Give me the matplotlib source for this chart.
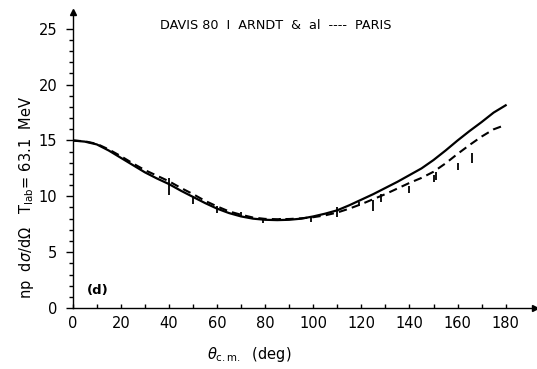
import matplotlib
matplotlib.use("Agg")
import matplotlib.pyplot as plt
import numpy as np

theta = [0, 5, 10, 15, 20, 25, 30, 35, 40, 45, 50, 55, 60, 65, 70, 75, 80, 85, 90,
         95, 100, 105, 110, 115, 120, 125, 130, 135, 140, 145, 150, 155, 160, 165,
         170, 175, 180]
arndt = [15.0, 14.9, 14.65, 14.1, 13.45, 12.8, 12.15, 11.6, 11.1, 10.5, 9.95, 9.4,
         8.9, 8.5, 8.2, 8.0, 7.9, 7.87, 7.9, 8.0, 8.2, 8.45, 8.75, 9.2, 9.7, 10.2,
         10.75, 11.3, 11.9, 12.5, 13.25, 14.1, 15.0, 15.85, 16.65, 17.5, 18.15]
paris = [15.0, 14.93, 14.7, 14.2, 13.6, 12.95, 12.35, 11.85, 11.35, 10.75, 10.2, 9.6,
         9.1, 8.65, 8.35, 8.1, 7.98, 7.95, 7.97, 8.03, 8.13, 8.3, 8.55, 8.9, 9.3, 9.75,
         10.2, 10.7, 11.2, 11.65, 12.2, 12.95, 13.8, 14.6, 15.35, 16.0, 16.4]

davis_theta = [40, 50, 60, 70, 79, 86, 99, 110, 119, 125, 128, 140, 150, 151, 160, 166]
davis_val = [10.9, 9.7, 8.8, 8.4, 7.85, 7.95, 7.95, 8.6, 9.3, 9.2, 9.85, 10.6, 11.6,
             11.8, 12.7, 13.45]
davis_err = [0.75, 0.35, 0.3, 0.2, 0.2, 0.15, 0.25, 0.45, 0.2, 0.5, 0.35, 0.3, 0.35,
             0.35, 0.3, 0.45]

xticks = [0, 20, 40, 60, 80, 100, 120, 140, 160, 180]
yticks = [0, 5, 10, 15, 20, 25]

fig = plt.figure(figsize=(5.37, 3.69), dpi=100)
ax = fig.add_axes([0.1354, 0.1653, 0.86, 0.802])
ax.set_xlim(0, 192)
ax.set_ylim(0, 26.5)

ax.plot(theta, arndt, color="black", lw=1.6)
ax.plot(theta, paris, color="black", lw=1.5, ls=(0, (4, 2.5)))
ax.errorbar(davis_theta, davis_val, yerr=davis_err, fmt="none", ecolor="black",
            elinewidth=1.3, capsize=0)

for s in ["top", "right"]:
    ax.spines[s].set_visible(False)
for s in ["left", "bottom"]:
    ax.spines[s].set_linewidth(1.0)

ax.plot(1, 0, ">", color="black", ms=4, transform=ax.get_yaxis_transform(), clip_on=False)
ax.plot(0, 1, "^", color="black", ms=4, transform=ax.get_xaxis_transform(), clip_on=False)

ax.set_xticks(xticks)
ax.set_xticks(np.arange(10, 190, 20), minor=True)
ax.set_yticks(yticks)
ax.set_yticks([v for v in range(0, 26) if v % 5], minor=True)
ax.tick_params(axis="x", which="both", direction="in", length=3, width=1, pad=6,
               labelsize=10.5)
ax.tick_params(axis="y", which="major", direction="out", length=5, width=1, pad=6,
               labelsize=10.5)
ax.tick_params(axis="y", which="minor", direction="out", length=3, width=1)

ax.text(6, 1.6, "(d)", fontsize=9.5, fontweight="bold", va="center", ha="left")

fig.text(0.514, 0.93, "DAVIS 80  I  ARNDT  &  al  ----  PARIS", fontsize=9.2,
         ha="center", va="center")
fig.text(0.465, 0.04, r"$\theta_{\rm c.m.}$  (deg)", fontsize=10.5, ha="center",
         va="center")
fig.text(0.05, 0.465, r"np  d$\sigma$/d$\Omega$   T$_{\rm lab}$= 63.1  MeV",
         fontsize=10.5, rotation=90, ha="center", va="center")

fig.savefig("out.png", dpi=100)
